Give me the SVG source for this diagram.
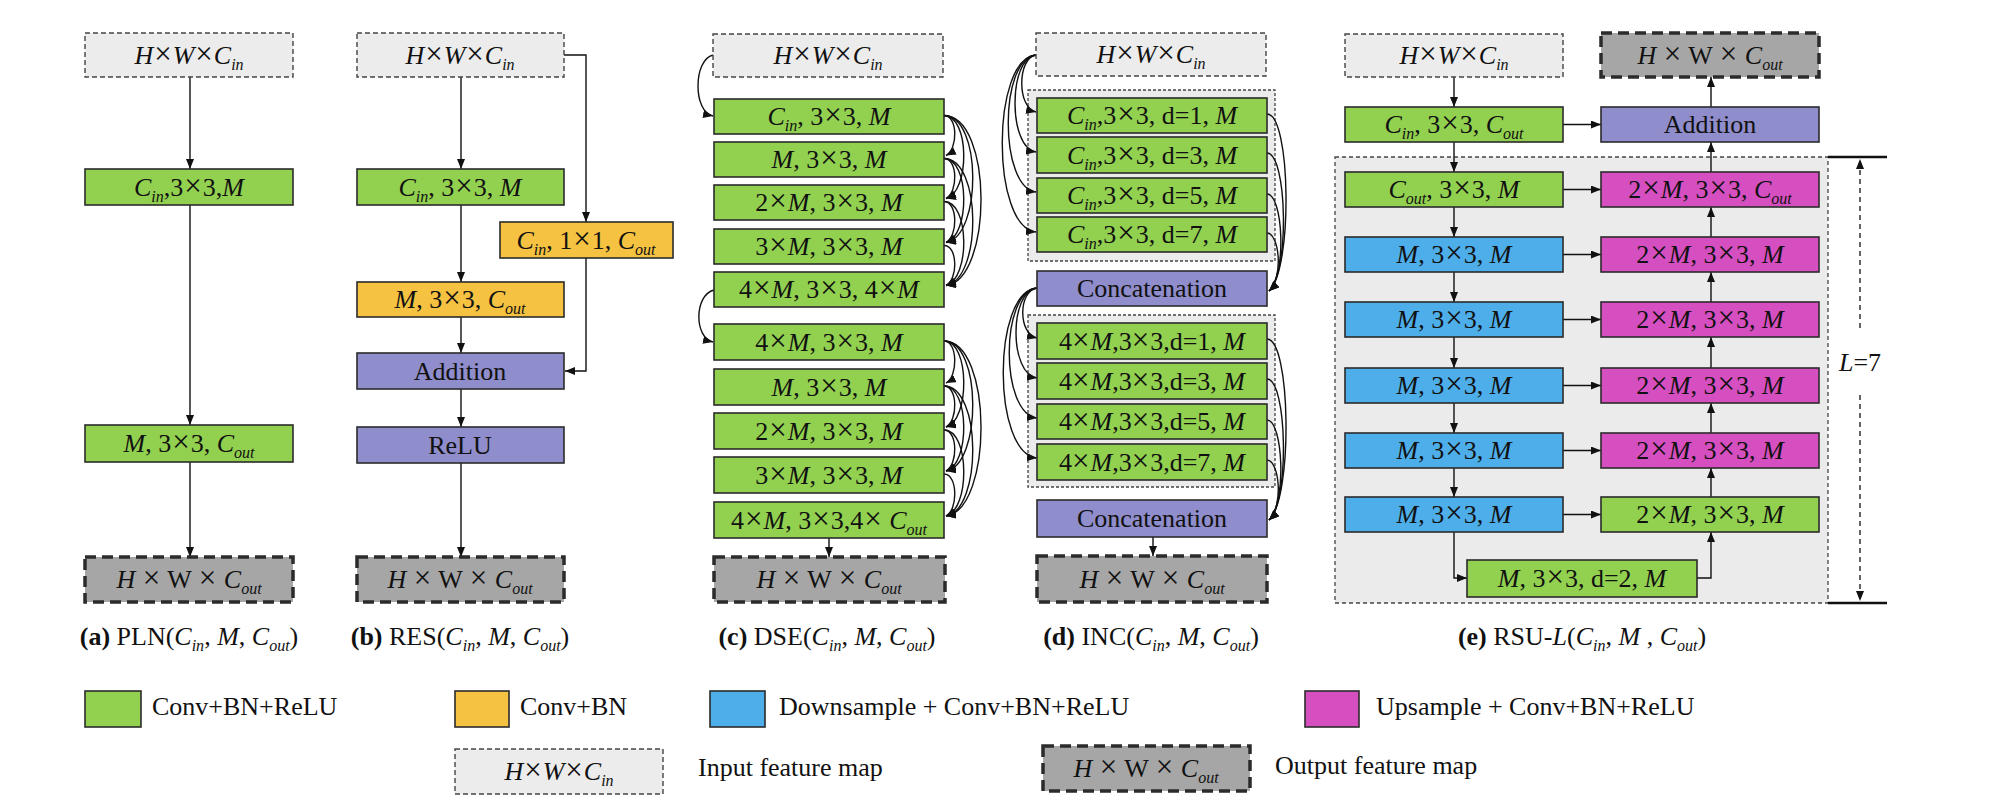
<svg xmlns="http://www.w3.org/2000/svg" width="1999" height="810" viewBox="0 0 1999 810">
<defs>
<style>
.box{stroke:#2b2b2b;stroke-width:1.6}
.g{fill:#92d050}.y{fill:#f5c242}.b{fill:#4eaeea}.m{fill:#d64fc0}.p{fill:#8f8dcb}
.in{fill:#ececec;stroke:#444;stroke-width:1.4;stroke-dasharray:5 3}
.out{fill:#a6a6a6;stroke:#2b2b2b;stroke-width:3.5;stroke-dasharray:11 6}
.grp{fill:#ebebeb;stroke:#444;stroke-width:1.3;stroke-dasharray:3 2}
.t{font-family:"Liberation Serif","Times New Roman",serif;font-size:26px;fill:#111;text-anchor:middle}
.lg{font-family:"Liberation Serif","Times New Roman",serif;font-size:26px;fill:#111;text-anchor:start}
.i{font-style:italic}
.s{font-size:16px;font-style:italic}
.x{font-size:31px;letter-spacing:1px}
.c{fill:none;stroke:#111;stroke-width:1.4;marker-end:url(#ah)}
.dim{fill:none;stroke:#111;stroke-width:1.3;stroke-dasharray:5 4;marker-end:url(#ah)}
</style>
<marker id="ah" viewBox="0 0 10 8" refX="10" refY="4" markerWidth="10" markerHeight="8" markerUnits="userSpaceOnUse" orient="auto"><path d="M0,0 L10,4 L0,8 z" fill="#111"/></marker>
</defs>
<rect width="1999" height="810" fill="#fff"/>

<g id="rsu-region"><rect x="1335" y="157" width="493" height="446" class="grp" style="stroke-dasharray:4 3"/></g>
<g id="inc-group1"><rect x="1028" y="90" width="247" height="171" class="grp"/></g>
<g id="inc-group2"><rect x="1028" y="315" width="247" height="172" class="grp"/></g>

<g id="connectors">
<path class="c" d="M190,77 V169"/>
<path class="c" d="M190,205 V425"/>
<path class="c" d="M190,462 V557"/>
<path class="c" d="M461,77 V169"/>
<path class="c" d="M461,205 V282"/>
<path class="c" d="M461,317 V353"/>
<path class="c" d="M461,389 V427"/>
<path class="c" d="M461,463 V557"/>
<path class="c" d="M564,55 H586 V222"/>
<path class="c" d="M586,258 V371 H565"/>
<path class="c" d="M713,55 C693,60 693,112 713,116"/>
<path class="c" d="M714,290 C694,295 694,338 713,342"/>
<path class="c" d="M944,115.5 C958,115.5 958,149.5 946,155.5"/>
<path class="c" d="M944,115.5 C970,115.5 970,192.5 946,198.5"/>
<path class="c" d="M944,115.5 C982,115.5 982,236.5 946,242.5"/>
<path class="c" d="M944,115.5 C993,115.5 993,279.5 946,285.5"/>
<path class="c" d="M944,158.5 C958,158.5 958,192.5 946,198.5"/>
<path class="c" d="M944,158.5 C970,158.5 970,236.5 946,242.5"/>
<path class="c" d="M944,158.5 C982,158.5 982,279.5 946,285.5"/>
<path class="c" d="M944,201.5 C958,201.5 958,236.5 946,242.5"/>
<path class="c" d="M944,201.5 C970,201.5 970,279.5 946,285.5"/>
<path class="c" d="M944,245.5 C958,245.5 958,279.5 946,285.5"/>
<path class="c" d="M944,341 C958,341 958,377 946,383"/>
<path class="c" d="M944,341 C970,341 970,421 946,427"/>
<path class="c" d="M944,341 C982,341 982,465 946,471"/>
<path class="c" d="M944,341 C993,341 993,510 946,516"/>
<path class="c" d="M944,386 C958,386 958,421 946,427"/>
<path class="c" d="M944,386 C970,386 970,465 946,471"/>
<path class="c" d="M944,386 C982,386 982,510 946,516"/>
<path class="c" d="M944,430 C958,430 958,465 946,471"/>
<path class="c" d="M944,430 C970,430 970,510 946,516"/>
<path class="c" d="M944,474 C958,474 958,510 946,516"/>
<path class="c" d="M829,538 V557"/>
<path class="c" d="M1036,55 C1017,58 1017,108 1036,112"/>
<path class="c" d="M1036,55 C1008,58 1008,148 1036,152"/>
<path class="c" d="M1036,55 C999,58 999,188 1036,192"/>
<path class="c" d="M1036,55 C991,58 991,228 1036,232"/>
<path class="c" d="M1037,288 C1018,291 1018,334 1037,338"/>
<path class="c" d="M1037,288 C1009,291 1009,374 1037,378"/>
<path class="c" d="M1037,288 C1000,291 1000,414 1037,418"/>
<path class="c" d="M1037,288 C992,291 992,454 1037,458"/>
<path class="c" d="M1267,114 C1291,114 1293,270 1269,291"/>
<path class="c" d="M1267,153 C1287,153 1290,272 1269,291"/>
<path class="c" d="M1267,194 C1283,194 1287,274 1269,291"/>
<path class="c" d="M1267,233 C1279,233 1284,276 1269,291"/>
<path class="c" d="M1267,339 C1291,339 1293,499 1269,520"/>
<path class="c" d="M1267,379 C1287,379 1290,501 1269,520"/>
<path class="c" d="M1267,420 C1283,420 1287,503 1269,520"/>
<path class="c" d="M1267,460 C1279,460 1284,505 1269,520"/>
<path class="c" d="M1153,537 V556"/>
<path class="c" d="M1454,77 V107"/>
<path class="c" d="M1454,142 V172"/>
<path class="c" d="M1454,207 V237"/>
<path class="c" d="M1454,272 V302"/>
<path class="c" d="M1454,337 V368"/>
<path class="c" d="M1454,403 V433"/>
<path class="c" d="M1454,468 V497"/>
<path class="c" d="M1454,532 V578 H1467"/>
<path class="c" d="M1697,578 H1711 V532"/>
<path class="c" d="M1711,497 V468"/>
<path class="c" d="M1711,433 V403"/>
<path class="c" d="M1711,368 V337"/>
<path class="c" d="M1711,302 V272"/>
<path class="c" d="M1711,237 V207"/>
<path class="c" d="M1711,172 V142"/>
<path class="c" d="M1711,107 V77"/>
<path class="c" d="M1563,124.5 H1601"/>
<path class="c" d="M1563,189.5 H1601"/>
<path class="c" d="M1563,254.5 H1601"/>
<path class="c" d="M1563,319.5 H1601"/>
<path class="c" d="M1563,385.5 H1601"/>
<path class="c" d="M1563,450.5 H1601"/>
<path class="c" d="M1563,514.5 H1601"/>
<line x1="1828" y1="157" x2="1887" y2="157" stroke="#111" stroke-width="2.5"/>
<line x1="1828" y1="603" x2="1887" y2="603" stroke="#111" stroke-width="2.5"/>
<path class="dim" d="M1860,328 V159"/>
<path class="dim" d="M1860,395 V601"/>
</g>
<text class="t" x="1860" y="371"><tspan class="i">L</tspan>=7</text>

<!-- PLN -->
<g id="pln-in"><rect class="in" x="85" y="33" width="208" height="44"/><text class="t" x="189" y="64"><tspan class="i">H</tspan><tspan class="x" dx="1">×</tspan><tspan class="i">W</tspan><tspan class="x" dx="1">×</tspan><tspan class="i">C</tspan><tspan class="s" dy="6">in</tspan></text></g>
<g id="pln-1"><rect class="box g" x="85" y="169" width="208" height="36"/><text class="t" x="189" y="196"><tspan class="i">C</tspan><tspan class="s" dy="6">in</tspan><tspan dy="-6">,3</tspan><tspan class="x" dx="1">×</tspan>3,<tspan class="i">M</tspan></text></g>
<g id="pln-2"><rect class="box g" x="85" y="425" width="208" height="37"/><text class="t" x="189" y="452"><tspan class="i">M</tspan>, 3<tspan class="x" dx="1">×</tspan>3, <tspan class="i">C</tspan><tspan class="s" dy="6">out</tspan></text></g>
<g id="pln-out"><rect class="out" x="85" y="557" width="208" height="45"/><text class="t" x="189" y="588"><tspan class="i">H</tspan> <tspan class="x" dx="1">×</tspan> W <tspan class="x" dx="1">×</tspan> <tspan class="i">C</tspan><tspan class="s" dy="6">out</tspan></text></g>
<text class="t" x="189" y="645"><tspan font-weight="bold">(a)</tspan> PLN(<tspan class="i">C</tspan><tspan class="s" dy="6">in</tspan><tspan dy="-6">, </tspan><tspan class="i">M</tspan>, <tspan class="i">C</tspan><tspan class="s" dy="6">out</tspan><tspan dy="-6">)</tspan></text>

<!-- RES -->
<g id="res-in"><rect class="in" x="357" y="33" width="207" height="44"/><text class="t" x="460" y="64"><tspan class="i">H</tspan><tspan class="x" dx="1">×</tspan><tspan class="i">W</tspan><tspan class="x" dx="1">×</tspan><tspan class="i">C</tspan><tspan class="s" dy="6">in</tspan></text></g>
<g id="res-1"><rect class="box g" x="357" y="169" width="207" height="36"/><text class="t" x="460" y="196"><tspan class="i">C</tspan><tspan class="s" dy="6">in</tspan><tspan dy="-6">, 3</tspan><tspan class="x" dx="1">×</tspan>3, <tspan class="i">M</tspan></text></g>
<g id="res-skip"><rect class="box y" x="500" y="222" width="173" height="36"/><text class="t" x="586" y="249"><tspan class="i">C</tspan><tspan class="s" dy="6">in</tspan><tspan dy="-6">, 1</tspan><tspan class="x" dx="1">×</tspan>1, <tspan class="i">C</tspan><tspan class="s" dy="6">out</tspan></text></g>
<g id="res-2"><rect class="box y" x="357" y="282" width="207" height="35"/><text class="t" x="460" y="308"><tspan class="i">M</tspan>, 3<tspan class="x" dx="1">×</tspan>3, <tspan class="i">C</tspan><tspan class="s" dy="6">out</tspan></text></g>
<g id="res-add"><rect class="box p" x="357" y="353" width="207" height="36"/><text class="t" x="460" y="380">Addition</text></g>
<g id="res-relu"><rect class="box p" x="357" y="427" width="207" height="36"/><text class="t" x="460" y="454">ReLU</text></g>
<g id="res-out"><rect class="out" x="357" y="557" width="207" height="45"/><text class="t" x="460" y="588"><tspan class="i">H</tspan> <tspan class="x" dx="1">×</tspan> W <tspan class="x" dx="1">×</tspan> <tspan class="i">C</tspan><tspan class="s" dy="6">out</tspan></text></g>
<text class="t" x="460" y="645"><tspan font-weight="bold">(b)</tspan> RES(<tspan class="i">C</tspan><tspan class="s" dy="6">in</tspan><tspan dy="-6">, </tspan><tspan class="i">M</tspan>, <tspan class="i">C</tspan><tspan class="s" dy="6">out</tspan><tspan dy="-6">)</tspan></text>

<!-- DSE -->
<g id="dse-in"><rect class="in" x="713" y="34" width="230" height="43"/><text class="t" x="828" y="64"><tspan class="i">H</tspan><tspan class="x" dx="1">×</tspan><tspan class="i">W</tspan><tspan class="x" dx="1">×</tspan><tspan class="i">C</tspan><tspan class="s" dy="6">in</tspan></text></g>
<g id="dse-1"><rect class="box g" x="714" y="99" width="230" height="35"/><text class="t" x="829" y="125"><tspan class="i">C</tspan><tspan class="s" dy="6">in</tspan><tspan dy="-6">, 3</tspan><tspan class="x" dx="1">×</tspan>3, <tspan class="i">M</tspan></text></g>
<g id="dse-2"><rect class="box g" x="714" y="142" width="230" height="35"/><text class="t" x="829" y="168"><tspan class="i">M</tspan>, 3<tspan class="x" dx="1">×</tspan>3, <tspan class="i">M</tspan></text></g>
<g id="dse-3"><rect class="box g" x="714" y="185" width="230" height="35"/><text class="t" x="829" y="211">2<tspan class="x" dx="1">×</tspan><tspan class="i">M</tspan>, 3<tspan class="x" dx="1">×</tspan>3, <tspan class="i">M</tspan></text></g>
<g id="dse-4"><rect class="box g" x="714" y="229" width="230" height="35"/><text class="t" x="829" y="255">3<tspan class="x" dx="1">×</tspan><tspan class="i">M</tspan>, 3<tspan class="x" dx="1">×</tspan>3, <tspan class="i">M</tspan></text></g>
<g id="dse-5"><rect class="box g" x="714" y="272" width="230" height="35"/><text class="t" x="829" y="298">4<tspan class="x" dx="1">×</tspan><tspan class="i">M</tspan>, 3<tspan class="x" dx="1">×</tspan>3, 4<tspan class="x" dx="1">×</tspan><tspan class="i">M</tspan></text></g>
<g id="dse-6"><rect class="box g" x="714" y="324" width="230" height="36"/><text class="t" x="829" y="351">4<tspan class="x" dx="1">×</tspan><tspan class="i">M</tspan>, 3<tspan class="x" dx="1">×</tspan>3, <tspan class="i">M</tspan></text></g>
<g id="dse-7"><rect class="box g" x="714" y="369" width="230" height="36"/><text class="t" x="829" y="396"><tspan class="i">M</tspan>, 3<tspan class="x" dx="1">×</tspan>3, <tspan class="i">M</tspan></text></g>
<g id="dse-8"><rect class="box g" x="714" y="413" width="230" height="36"/><text class="t" x="829" y="440">2<tspan class="x" dx="1">×</tspan><tspan class="i">M</tspan>, 3<tspan class="x" dx="1">×</tspan>3, <tspan class="i">M</tspan></text></g>
<g id="dse-9"><rect class="box g" x="714" y="457" width="230" height="36"/><text class="t" x="829" y="484">3<tspan class="x" dx="1">×</tspan><tspan class="i">M</tspan>, 3<tspan class="x" dx="1">×</tspan>3, <tspan class="i">M</tspan></text></g>
<g id="dse-10"><rect class="box g" x="714" y="502" width="230" height="36"/><text class="t" x="829" y="529">4<tspan class="x" dx="1">×</tspan><tspan class="i">M</tspan>, 3<tspan class="x" dx="1">×</tspan>3,4<tspan class="x" dx="1">×</tspan> <tspan class="i">C</tspan><tspan class="s" dy="6">out</tspan></text></g>
<g id="dse-out"><rect class="out" x="714" y="557" width="231" height="45"/><text class="t" x="829" y="588"><tspan class="i">H</tspan> <tspan class="x" dx="1">×</tspan> W <tspan class="x" dx="1">×</tspan> <tspan class="i">C</tspan><tspan class="s" dy="6">out</tspan></text></g>
<text class="t" x="827" y="645"><tspan font-weight="bold">(c)</tspan> DSE(<tspan class="i">C</tspan><tspan class="s" dy="6">in</tspan><tspan dy="-6">, </tspan><tspan class="i">M</tspan>, <tspan class="i">C</tspan><tspan class="s" dy="6">out</tspan><tspan dy="-6">)</tspan></text>

<!-- INC -->
<g id="inc-in"><rect class="in" x="1036" y="33" width="230" height="43"/><text class="t" x="1151" y="63"><tspan class="i">H</tspan><tspan class="x" dx="1">×</tspan><tspan class="i">W</tspan><tspan class="x" dx="1">×</tspan><tspan class="i">C</tspan><tspan class="s" dy="6">in</tspan></text></g>
<g id="inc-1"><rect class="box g" x="1037" y="98" width="230" height="35"/><text class="t" x="1152" y="124"><tspan class="i">C</tspan><tspan class="s" dy="6">in</tspan><tspan dy="-6">,3</tspan><tspan class="x" dx="1">×</tspan>3, d=1, <tspan class="i">M</tspan></text></g>
<g id="inc-2"><rect class="box g" x="1037" y="137" width="230" height="36"/><text class="t" x="1152" y="164"><tspan class="i">C</tspan><tspan class="s" dy="6">in</tspan><tspan dy="-6">,3</tspan><tspan class="x" dx="1">×</tspan>3, d=3, <tspan class="i">M</tspan></text></g>
<g id="inc-3"><rect class="box g" x="1037" y="178" width="230" height="35"/><text class="t" x="1152" y="204"><tspan class="i">C</tspan><tspan class="s" dy="6">in</tspan><tspan dy="-6">,3</tspan><tspan class="x" dx="1">×</tspan>3, d=5, <tspan class="i">M</tspan></text></g>
<g id="inc-4"><rect class="box g" x="1037" y="217" width="230" height="35"/><text class="t" x="1152" y="243"><tspan class="i">C</tspan><tspan class="s" dy="6">in</tspan><tspan dy="-6">,3</tspan><tspan class="x" dx="1">×</tspan>3, d=7, <tspan class="i">M</tspan></text></g>
<g id="inc-cat1"><rect class="box p" x="1037" y="271" width="230" height="35"/><text class="t" x="1152" y="297">Concatenation</text></g>
<g id="inc-5"><rect class="box g" x="1037" y="323" width="230" height="36"/><text class="t" x="1152" y="350">4<tspan class="x">×</tspan><tspan class="i">M</tspan>,3<tspan class="x">×</tspan>3,d=1, <tspan class="i">M</tspan></text></g>
<g id="inc-6"><rect class="box g" x="1037" y="363" width="230" height="36"/><text class="t" x="1152" y="390">4<tspan class="x">×</tspan><tspan class="i">M</tspan>,3<tspan class="x">×</tspan>3,d=3, <tspan class="i">M</tspan></text></g>
<g id="inc-7"><rect class="box g" x="1037" y="404" width="230" height="35"/><text class="t" x="1152" y="430">4<tspan class="x">×</tspan><tspan class="i">M</tspan>,3<tspan class="x">×</tspan>3,d=5, <tspan class="i">M</tspan></text></g>
<g id="inc-8"><rect class="box g" x="1037" y="444" width="230" height="36"/><text class="t" x="1152" y="471">4<tspan class="x">×</tspan><tspan class="i">M</tspan>,3<tspan class="x">×</tspan>3,d=7, <tspan class="i">M</tspan></text></g>
<g id="inc-cat2"><rect class="box p" x="1037" y="500" width="230" height="37"/><text class="t" x="1152" y="527">Concatenation</text></g>
<g id="inc-out"><rect class="out" x="1037" y="556" width="230" height="46"/><text class="t" x="1152" y="588"><tspan class="i">H</tspan> <tspan class="x" dx="1">×</tspan> W <tspan class="x" dx="1">×</tspan> <tspan class="i">C</tspan><tspan class="s" dy="6">out</tspan></text></g>
<text class="t" x="1151" y="645"><tspan font-weight="bold">(d)</tspan> INC(<tspan class="i">C</tspan><tspan class="s" dy="6">in</tspan><tspan dy="-6">, </tspan><tspan class="i">M</tspan>, <tspan class="i">C</tspan><tspan class="s" dy="6">out</tspan><tspan dy="-6">)</tspan></text>

<!-- RSU -->
<g id="rsu-in"><rect class="in" x="1345" y="34" width="218" height="43"/><text class="t" x="1454" y="64"><tspan class="i">H</tspan><tspan class="x" dx="1">×</tspan><tspan class="i">W</tspan><tspan class="x" dx="1">×</tspan><tspan class="i">C</tspan><tspan class="s" dy="6">in</tspan></text></g>
<g id="rsu-out"><rect class="out" x="1601" y="33" width="218" height="44"/><text class="t" x="1710" y="64"><tspan class="i">H</tspan> <tspan class="x" dx="1">×</tspan> W <tspan class="x" dx="1">×</tspan> <tspan class="i">C</tspan><tspan class="s" dy="6">out</tspan></text></g>
<g id="rsu-conv0"><rect class="box g" x="1345" y="107" width="218" height="35"/><text class="t" x="1454" y="133"><tspan class="i">C</tspan><tspan class="s" dy="6">in</tspan><tspan dy="-6">, 3</tspan><tspan class="x" dx="1">×</tspan>3, <tspan class="i">C</tspan><tspan class="s" dy="6">out</tspan></text></g>
<g id="rsu-add"><rect class="box p" x="1601" y="107" width="218" height="35"/><text class="t" x="1710" y="133">Addition</text></g>
<g id="rsu-e1"><rect class="box g" x="1345" y="172" width="218" height="35"/><text class="t" x="1454" y="198"><tspan class="i">C</tspan><tspan class="s" dy="6">out</tspan><tspan dy="-6">, 3</tspan><tspan class="x" dx="1">×</tspan>3, <tspan class="i">M</tspan></text></g>
<g id="rsu-e2"><rect class="box b" x="1345" y="237" width="218" height="35"/><text class="t" x="1454" y="263"><tspan class="i">M</tspan>, 3<tspan class="x" dx="1">×</tspan>3, <tspan class="i">M</tspan></text></g>
<g id="rsu-e3"><rect class="box b" x="1345" y="302" width="218" height="35"/><text class="t" x="1454" y="328"><tspan class="i">M</tspan>, 3<tspan class="x" dx="1">×</tspan>3, <tspan class="i">M</tspan></text></g>
<g id="rsu-e4"><rect class="box b" x="1345" y="368" width="218" height="35"/><text class="t" x="1454" y="394"><tspan class="i">M</tspan>, 3<tspan class="x" dx="1">×</tspan>3, <tspan class="i">M</tspan></text></g>
<g id="rsu-e5"><rect class="box b" x="1345" y="433" width="218" height="35"/><text class="t" x="1454" y="459"><tspan class="i">M</tspan>, 3<tspan class="x" dx="1">×</tspan>3, <tspan class="i">M</tspan></text></g>
<g id="rsu-e6"><rect class="box b" x="1345" y="497" width="218" height="35"/><text class="t" x="1454" y="523"><tspan class="i">M</tspan>, 3<tspan class="x" dx="1">×</tspan>3, <tspan class="i">M</tspan></text></g>
<g id="rsu-d1"><rect class="box m" x="1601" y="172" width="218" height="35"/><text class="t" x="1710" y="198">2<tspan class="x" dx="1">×</tspan><tspan class="i">M</tspan>, 3<tspan class="x" dx="1">×</tspan>3, <tspan class="i">C</tspan><tspan class="s" dy="6">out</tspan></text></g>
<g id="rsu-d2"><rect class="box m" x="1601" y="237" width="218" height="35"/><text class="t" x="1710" y="263">2<tspan class="x" dx="1">×</tspan><tspan class="i">M</tspan>, 3<tspan class="x" dx="1">×</tspan>3, <tspan class="i">M</tspan></text></g>
<g id="rsu-d3"><rect class="box m" x="1601" y="302" width="218" height="35"/><text class="t" x="1710" y="328">2<tspan class="x" dx="1">×</tspan><tspan class="i">M</tspan>, 3<tspan class="x" dx="1">×</tspan>3, <tspan class="i">M</tspan></text></g>
<g id="rsu-d4"><rect class="box m" x="1601" y="368" width="218" height="35"/><text class="t" x="1710" y="394">2<tspan class="x" dx="1">×</tspan><tspan class="i">M</tspan>, 3<tspan class="x" dx="1">×</tspan>3, <tspan class="i">M</tspan></text></g>
<g id="rsu-d5"><rect class="box m" x="1601" y="433" width="218" height="35"/><text class="t" x="1710" y="459">2<tspan class="x" dx="1">×</tspan><tspan class="i">M</tspan>, 3<tspan class="x" dx="1">×</tspan>3, <tspan class="i">M</tspan></text></g>
<g id="rsu-d6"><rect class="box g" x="1601" y="497" width="218" height="35"/><text class="t" x="1710" y="523">2<tspan class="x" dx="1">×</tspan><tspan class="i">M</tspan>, 3<tspan class="x" dx="1">×</tspan>3, <tspan class="i">M</tspan></text></g>
<g id="rsu-bottom"><rect class="box g" x="1467" y="560" width="230" height="37"/><text class="t" x="1582" y="587"><tspan class="i">M</tspan>, 3<tspan class="x" dx="1">×</tspan>3, d=2, <tspan class="i">M</tspan></text></g>
<text class="t" x="1582" y="645"><tspan font-weight="bold">(e)</tspan> RSU-<tspan class="i">L</tspan>(<tspan class="i">C</tspan><tspan class="s" dy="6">in</tspan><tspan dy="-6">, </tspan><tspan class="i">M</tspan> , <tspan class="i">C</tspan><tspan class="s" dy="6">out</tspan><tspan dy="-6">)</tspan></text>

<!-- Legend -->
<g id="legend">
<rect class="box g" x="85" y="691" width="56" height="36"/>
<text class="lg" x="152" y="715">Conv+BN+ReLU</text>
<rect class="box y" x="455" y="691" width="54" height="36"/>
<text class="lg" x="520" y="715">Conv+BN</text>
<rect class="box b" x="710" y="691" width="55" height="36"/>
<text class="lg" x="779" y="715">Downsample + Conv+BN+ReLU</text>
<rect class="box m" x="1305" y="691" width="54" height="36"/>
<text class="lg" x="1376" y="715">Upsample + Conv+BN+ReLU</text>
<rect class="in" x="455" y="749" width="208" height="45"/>
<text class="t" x="559" y="780"><tspan class="i">H</tspan><tspan class="x" dx="1">×</tspan><tspan class="i">W</tspan><tspan class="x" dx="1">×</tspan><tspan class="i">C</tspan><tspan class="s" dy="6">in</tspan></text>
<text class="lg" x="698" y="776">Input feature map</text>
<rect class="out" x="1043" y="746" width="207" height="45"/>
<text class="t" x="1146" y="777"><tspan class="i">H</tspan> <tspan class="x" dx="1">×</tspan> W <tspan class="x" dx="1">×</tspan> <tspan class="i">C</tspan><tspan class="s" dy="6">out</tspan></text>
<text class="lg" x="1275" y="774">Output feature map</text>
</g>
</svg>
